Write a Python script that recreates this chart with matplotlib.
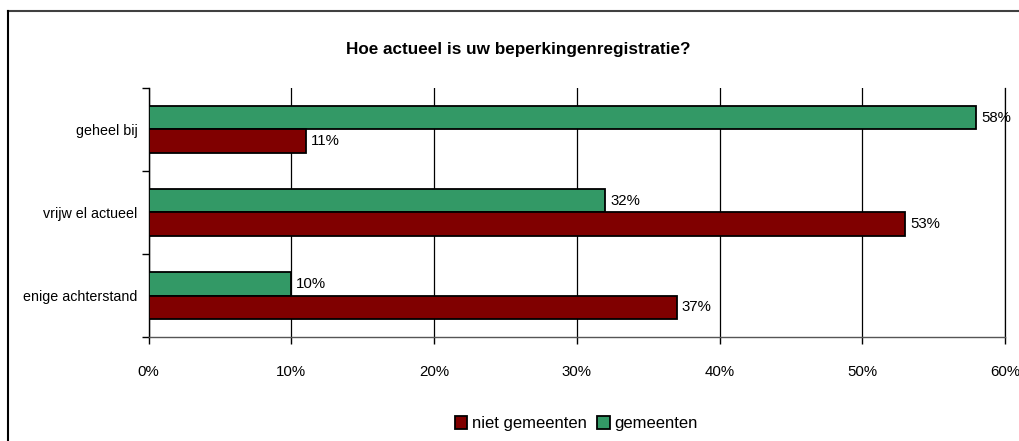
import numpy as np
import matplotlib.pyplot as plt
from matplotlib.lines import Line2D
from matplotlib.ticker import FuncFormatter, FixedLocator

categories = ["geheel bij", "vrijw el actueel", "enige achterstand"]
gemeenten = [58, 32, 10]
niet_gemeenten = [11, 53, 37]
x_ticks = [0, 10, 20, 30, 40, 50, 60]

green = "#339966"
red = "#800000"

plt.rcParams['font.family'] = ['Liberation Sans', 'DejaVu Sans']


def main():
    fig = plt.figure(figsize=(10.2, 4.41), dpi=100)
    ax = fig.add_axes([0.1456, 0.2358, 0.8397, 0.5647])

    y = np.arange(len(categories))[::-1]
    h = 0.28
    ax.barh(y + h / 2, gemeenten, height=h, color=green, edgecolor="black",
            linewidth=1.3, label="gemeenten", zorder=3)
    ax.barh(y - h / 2, niet_gemeenten, height=h, color=red, edgecolor="black",
            linewidth=1.3, label="niet gemeenten", zorder=3)

    # percentage labels next to the bars
    for yi, v in zip(y, gemeenten):
        ax.text(v + 0.35, yi + h / 2, f"{v}%", va="center", ha="left", fontsize=10.8, zorder=4)
    for yi, v in zip(y, niet_gemeenten):
        ax.text(v + 0.35, yi - h / 2, f"{v}%", va="center", ha="left", fontsize=10.8, zorder=4)

    ax.set_xlim(0, 60)
    ax.set_ylim(-0.5, len(categories) - 0.5)
    ax.set_xticks(x_ticks)
    ax.xaxis.set_major_formatter(FuncFormatter(lambda v, p: f"{v:.0f}%"))
    # ticks between categories, labels in the middle
    ax.yaxis.set_major_locator(FixedLocator([-0.5, 0.5, 1.5, 2.5]))
    ax.yaxis.set_major_formatter(FuncFormatter(lambda v, p: ""))
    ax.yaxis.set_minor_locator(FixedLocator(list(y)))
    ax.set_yticklabels(categories, minor=True)
    ax.tick_params(axis="y", which="minor", length=0, pad=8, labelsize=10.3)
    ax.tick_params(axis="y", which="major", length=5, width=1, direction="out")
    ax.tick_params(axis="x", length=5, width=1, direction="out", pad=15, labelsize=10.8)

    ax.grid(axis="x", color="black", linewidth=0.9, zorder=0)
    ax.spines["top"].set_visible(False)
    ax.spines["right"].set_linewidth(0.9)
    ax.spines["left"].set_linewidth(1)
    ax.spines["bottom"].set_linewidth(1)
    ax.spines["bottom"].set_color("#555555")

    fig.suptitle("Hoe actueel is uw beperkingenregistratie?", x=0.508, y=0.905,
                 fontsize=12.3, fontweight="bold")

    handles, labels = ax.get_legend_handles_labels()
    fig.legend(handles[::-1], labels[::-1], loc="center", bbox_to_anchor=(0.565, 0.04),
               ncol=2, frameon=False, fontsize=12, handlelength=0.75, handleheight=0.9,
               handletextpad=0.3, columnspacing=0.6)

    # chart frame (only top and left edges visible)
    fig.add_artist(Line2D([8 / 1020, 1], [1 - 11 / 441, 1 - 11 / 441],
                          color="#404040", linewidth=1.5, transform=fig.transFigure))
    fig.add_artist(Line2D([8 / 1020, 8 / 1020], [0, 1 - 11 / 441],
                          color="black", linewidth=1.5, transform=fig.transFigure))

    fig.savefig("out.png", dpi=100)


if __name__ == "__main__":
    main()
